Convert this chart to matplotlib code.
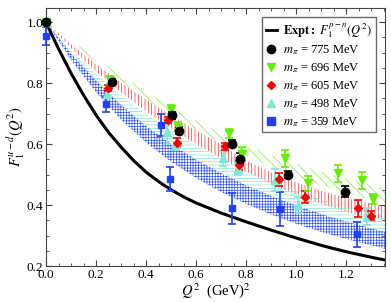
import matplotlib
matplotlib.use('Agg')
import matplotlib.pyplot as plt
from matplotlib.lines import Line2D

plt.rcParams['font.family'] = ['Liberation Serif', 'DejaVu Serif']
plt.rcParams['mathtext.fontset'] = 'stix'
plt.rcParams['hatch.linewidth'] = 0.5

# experimental curve F1^{p-n}(Q^2)
q2_expt = [0.0, 0.01, 0.025, 0.05, 0.1, 0.15, 0.2, 0.25, 0.3, 0.35, 0.4, 0.45, 0.5, 0.55,
           0.6, 0.7, 0.8, 0.9, 1.0, 1.1, 1.2, 1.3, 1.36]
f_expt = [1.0, 0.981, 0.955, 0.912, 0.832, 0.760, 0.695, 0.638, 0.590, 0.546, 0.508, 0.477,
          0.450, 0.427, 0.407, 0.374, 0.345, 0.318, 0.292, 0.268, 0.247, 0.229, 0.219]

# fit bands, read at these Q^2
q2_band = [0.0, 0.1, 0.2, 0.3, 0.4, 0.5, 0.6, 0.7, 0.8, 0.9, 1.0, 1.1, 1.2, 1.3, 1.36]
band_696_hi = [1.0, 0.940, 0.882, 0.826, 0.772, 0.722, 0.677, 0.635, 0.597, 0.564, 0.535, 0.510, 0.487, 0.465, 0.452]
band_696_lo = [1.0, 0.932, 0.868, 0.806, 0.748, 0.695, 0.647, 0.603, 0.563, 0.526, 0.494, 0.465, 0.440, 0.418, 0.406]
band_605_hi = [1.0, 0.928, 0.862, 0.802, 0.746, 0.694, 0.645, 0.600, 0.545, 0.508, 0.475, 0.447, 0.423, 0.405, 0.398]
band_605_lo = [1.0, 0.915, 0.838, 0.770, 0.708, 0.652, 0.600, 0.553, 0.510, 0.470, 0.434, 0.404, 0.378, 0.358, 0.350]
band_498_hi = [1.0, 0.909, 0.829, 0.759, 0.698, 0.644, 0.596, 0.553, 0.515, 0.480, 0.449, 0.421, 0.395, 0.372, 0.359]
band_498_lo = [1.0, 0.895, 0.806, 0.727, 0.658, 0.600, 0.549, 0.505, 0.465, 0.430, 0.399, 0.371, 0.346, 0.324, 0.311]
band_359_hi = [1.0, 0.897, 0.808, 0.728, 0.659, 0.600, 0.549, 0.505, 0.465, 0.430, 0.399, 0.371, 0.346, 0.324, 0.311]
band_359_lo = [1.0, 0.876, 0.770, 0.680, 0.605, 0.542, 0.489, 0.443, 0.404, 0.369, 0.339, 0.312, 0.289, 0.268, 0.256]

# lattice points
q2_775 = [0.0, 0.263, 0.503, 0.532, 0.743, 0.775, 0.969, 1.196]
f_775 = [1.0, 0.804, 0.695, 0.644, 0.602, 0.552, 0.500, 0.444]
e_775 = [0.005, 0.010, 0.012, 0.012, 0.012, 0.018, 0.012, 0.018]

q2_696 = [0.0, 0.256, 0.499, 0.527, 0.733, 0.783, 0.956, 1.049, 1.169, 1.263, 1.309]
f_696 = [1.0, 0.810, 0.714, 0.657, 0.635, 0.569, 0.553, 0.471, 0.504, 0.482, 0.419]
e_696 = [0.005, 0.012, 0.014, 0.015, 0.016, 0.020, 0.028, 0.026, 0.028, 0.028, 0.016]

q2_605 = [0.0, 0.249, 0.489, 0.524, 0.716, 0.773, 0.933, 1.036, 1.247, 1.300]
f_605 = [1.0, 0.783, 0.679, 0.605, 0.593, 0.531, 0.484, 0.427, 0.389, 0.365]
e_605 = [0.005, 0.010, 0.010, 0.015, 0.012, 0.015, 0.020, 0.020, 0.027, 0.015]

q2_498 = [0.0, 0.243, 0.484, 0.520, 0.707, 0.767, 0.916, 1.009, 1.283]
f_498 = [1.0, 0.766, 0.640, 0.600, 0.553, 0.520, 0.482, 0.400, 0.362]
e_498 = [0.005, 0.015, 0.040, 0.020, 0.025, 0.022, 0.036, 0.025, 0.027]

q2_359 = [0.0, 0.239, 0.460, 0.497, 0.743, 0.935, 1.244]
f_359 = [0.955, 0.731, 0.662, 0.486, 0.389, 0.386, 0.304]
e_359 = [0.030, 0.025, 0.037, 0.039, 0.051, 0.056, 0.041]

c_775 = 'black'
c_696 = '#66ee00'
c_605 = '#ff0000'
c_498 = '#7fe8d4'
c_359 = '#2040ff'

fig = plt.figure(figsize=(3.91, 3.02), dpi=100)
ax = fig.add_axes([0.118, 0.119, 0.867, 0.855])

# bands
ax.fill_between(q2_band, band_696_lo, band_696_hi, facecolor='none', edgecolor='#80f040',
                hatch='\\\\\\\\', linewidth=0, zorder=1)
ax.fill_between(q2_band, band_605_lo, band_605_hi, facecolor='none', edgecolor='#ff3030',
                hatch='|||||', linewidth=0, zorder=1)
ax.fill_between(q2_band, band_498_lo, band_498_hi, facecolor='none', edgecolor=c_498,
                hatch='-----', linewidth=0, zorder=1)
ax.fill_between(q2_band, band_359_lo, band_359_hi, facecolor='none', edgecolor='#3355ff',
                hatch='++++++', linewidth=0, zorder=1)

ax.plot(q2_expt, f_expt, color='black', lw=2.2, zorder=2)

ebkw = dict(linestyle='none', capsize=3, elinewidth=1.2, capthick=1.2, zorder=3, clip_on=False)
ax.errorbar(q2_359, f_359, yerr=e_359, marker='s', ms=5, color=c_359, **ebkw)
ax.errorbar(q2_498, f_498, yerr=e_498, marker='^', ms=5.5, color=c_498, **ebkw)
ax.errorbar(q2_605, f_605, yerr=e_605, marker='D', ms=4, color=c_605, **ebkw)
ax.errorbar(q2_696, f_696, yerr=e_696, marker='v', ms=6, color=c_696, **ebkw)
ax.errorbar(q2_775, f_775, yerr=e_775, marker='o', ms=6, color=c_775, **ebkw)

ax.set_xlim(0, 1.356)
ax.set_ylim(0.2, 1.047)
ax.set_xticks([0.0, 0.2, 0.4, 0.6, 0.8, 1.0, 1.2])
ax.set_yticks([0.2, 0.4, 0.6, 0.8, 1.0])
ax.set_xticks([i * 0.05 for i in range(28)], minor=True)
ax.set_yticks([0.2 + i * 0.05 for i in range(17)], minor=True)
ax.tick_params(which='both', direction='in', top=True, right=True, labelsize=9.5,
               color='#444444', pad=2)
ax.tick_params(which='major', length=4.5)
ax.tick_params(which='minor', length=2.5)
for s in ax.spines.values():
    s.set_color('#444444')

ax.set_xlabel(r'$Q^2$  (GeV)$^2$', fontsize=10.5, labelpad=0)
ax.set_ylabel(r'$F_1^{u-d}(Q^2)$', fontsize=10.5, labelpad=0)

handles = [
    Line2D([], [], color='black', lw=2),
    Line2D([], [], color=c_775, marker='o', ms=6, ls='none'),
    Line2D([], [], color=c_696, marker='v', ms=6, ls='none'),
    Line2D([], [], color=c_605, marker='D', ms=4.5, ls='none'),
    Line2D([], [], color=c_498, marker='^', ms=6, ls='none'),
    Line2D([], [], color=c_359, marker='s', ms=5.5, ls='none'),
]
labels = [
    r'$\mathbf{Expt:}$ $F_1^{p-n}(Q^2)$',
    r'$m_\pi$ = 775 MeV',
    r'$m_\pi$ = 696 MeV',
    r'$m_\pi$ = 605 MeV',
    r'$m_\pi$ = 498 MeV',
    r'$m_\pi$ = 359 MeV',
]
leg = ax.legend(handles, labels, loc='upper right', fontsize=9, frameon=True,
                fancybox=False, edgecolor='#444444', handlelength=0.9,
                handletextpad=0.5, labelspacing=0.32, borderaxespad=0.75,
                borderpad=0.3)
leg.get_frame().set_linewidth(1.0)
leg.set_zorder(5)

fig.savefig('out.png', dpi=100)
